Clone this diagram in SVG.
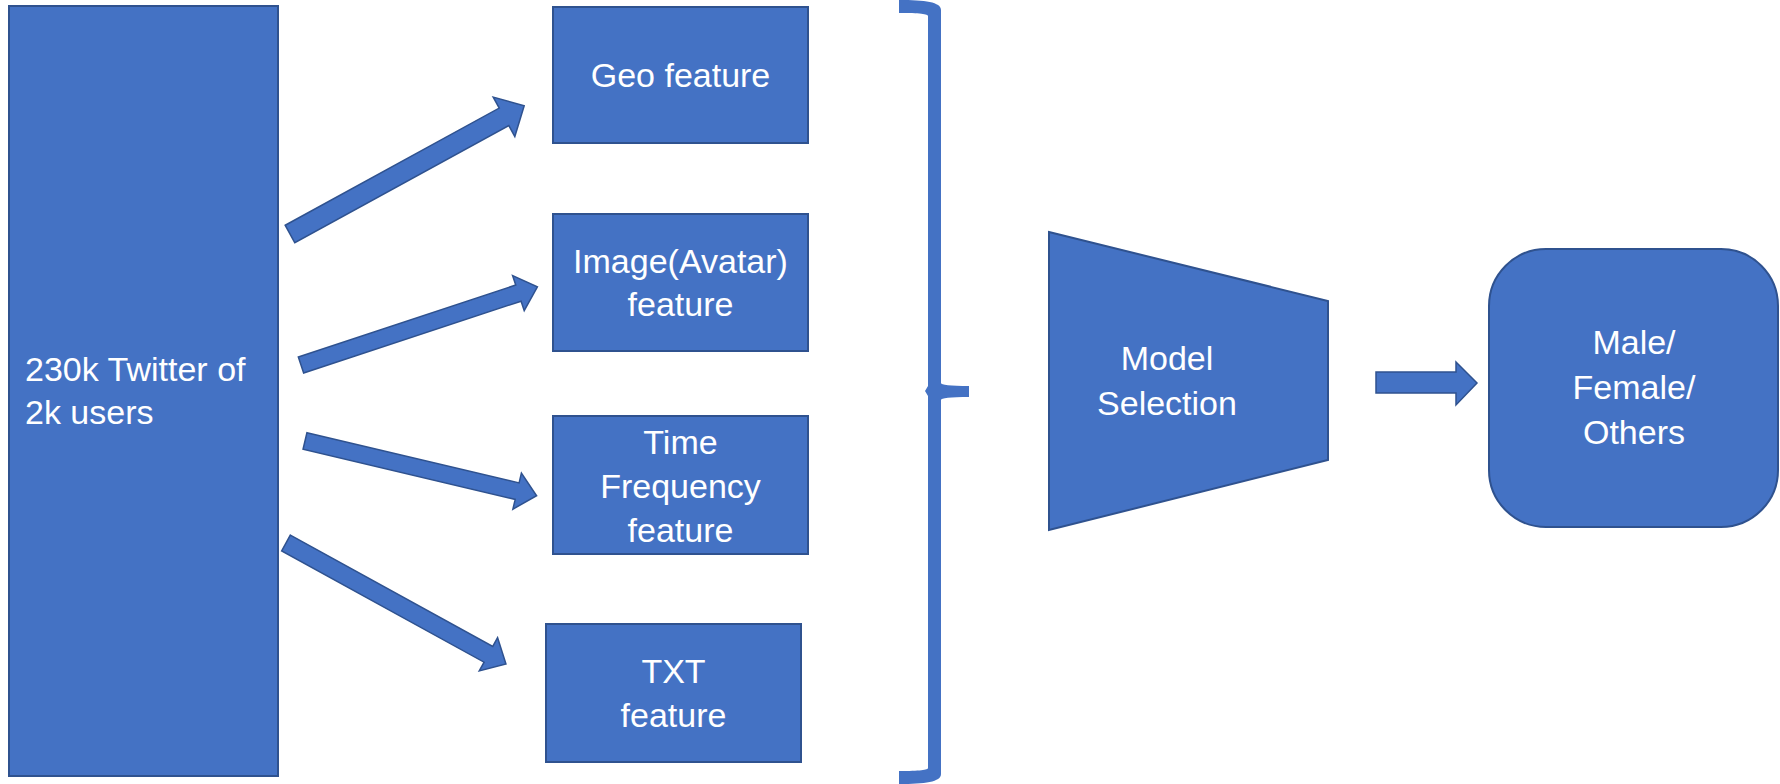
<svg xmlns="http://www.w3.org/2000/svg" width="1780" height="784" viewBox="0 0 1780 784">
<style>
.n{fill:#4472C4;stroke:#2F528F;stroke-width:2}
.a{fill:#4472C4;stroke:#2F528F;stroke-width:1.5}
.t{font-family:"Liberation Sans",Arial,sans-serif;font-size:34px;fill:#FFFFFF}
.m{text-anchor:middle}
</style>
<rect width="1780" height="784" fill="#FFFFFF"/>
<g id="source">
<rect class="n" x="9" y="6" width="269" height="770"/>
<text class="t" x="25" y="381">230k Twitter of</text>
<text class="t" x="25" y="424">2k users</text>
</g>
<g id="geo">
<rect class="n" x="553" y="7" width="255" height="136"/>
<text class="t m" x="680.5" y="87">Geo feature</text>
</g>
<g id="image">
<rect class="n" x="553" y="214" width="255" height="137"/>
<text class="t m" x="680.5" y="273">Image(Avatar)</text>
<text class="t m" x="680.5" y="316">feature</text>
</g>
<g id="time">
<rect class="n" x="553" y="416" width="255" height="138"/>
<text class="t m" x="680.5" y="454">Time</text>
<text class="t m" x="680.5" y="498">Frequency</text>
<text class="t m" x="680.5" y="542">feature</text>
</g>
<g id="txt">
<rect class="n" x="546" y="624" width="255" height="138"/>
<text class="t m" x="673.5" y="683">TXT</text>
<text class="t m" x="673.5" y="727">feature</text>
</g>
<g id="brace">
<path fill="#4472C4" d="M899,0 C925,0 941,2 941,10 L941,383 C941,385 950,386 969,386 L969,397 C950,397 941,398 941,400 L941,774 C941,782 925,784 899,784 L899,771 C920,771 928,770 928,768 L928,396 L925,391 L928,386 L928,16 C928,14 920,13 899,13 Z"/>
</g>
<g id="model">
<polygon class="n" points="1049,232 1328,301 1328,460 1049,530"/>
<text class="t m" x="1167" y="370">Model</text>
<text class="t m" x="1167" y="415">Selection</text>
</g>
<g id="output">
<rect class="n" x="1489" y="249" width="289" height="278" rx="57" ry="57"/>
<text class="t m" x="1634" y="354">Male/</text>
<text class="t m" x="1634" y="399">Female/</text>
<text class="t m" x="1634" y="444">Others</text>
</g>
<g id="connectors">
<polygon class="a" transform="translate(290,234) rotate(-28.7)" points="0,-10 244,-10 244,-22.5 267,0 244,22.5 244,10 0,10"/>
<polygon class="a" transform="translate(301,365) rotate(-18.3)" points="0,-8.5 229,-8.5 229,-18.5 249,0 229,18.5 229,8.5 0,8.5"/>
<polygon class="a" transform="translate(305,441) rotate(13.3)" points="0,-8.5 218,-8.5 218,-18.5 238,0 218,18.5 218,8.5 0,8.5"/>
<polygon class="a" transform="translate(286,543) rotate(28.8)" points="0,-9 231,-9 231,-19 251,0 231,19 231,9 0,9"/>
<polygon class="a" points="1376,372 1456,372 1456,362 1477,383 1456,405 1456,393 1376,393"/>
</g>
</svg>
